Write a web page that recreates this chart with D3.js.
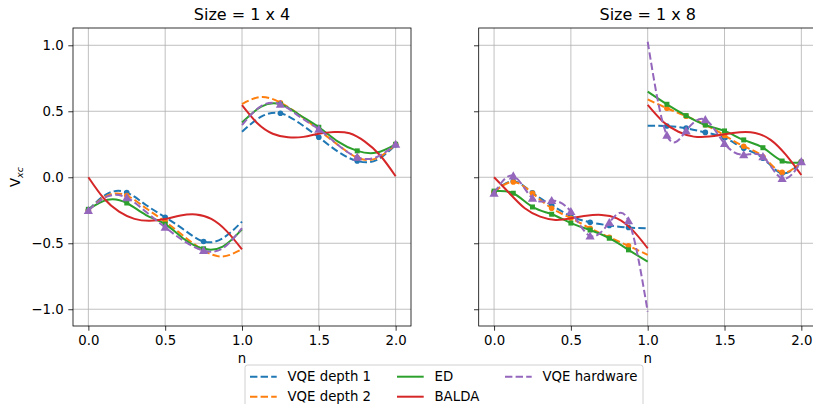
<!DOCTYPE html>
<html><head><meta charset="utf-8">
<script src="https://cdn.jsdelivr.net/npm/d3@7"></script>
<style>body{margin:0;background:#fff}svg{display:block;font-family:"DejaVu Sans",sans-serif}</style>
</head><body><svg id="c" width="813" height="404"></svg>
<script>
// ---------- data ----------
const titles = ["Size = 1 x 4", "Size = 1 x 8"];
const xTicks = [0, 0.5, 1, 1.5, 2];
const yTicks = [-1, -0.5, 0, 0.5, 1];
const seriesNames = ["VQE depth 1", "VQE depth 2", "ED", "BALDA", "VQE hardware"];

const nLeft = [0, 0.125, 0.25, 0.375, 0.5, 0.625, 0.75, 0.875, 1];
const nRight = [1, 1.125, 1.25, 1.375, 1.5, 1.625, 1.75, 1.875, 2];
const nBaldaLeft = [0, 0.1, 0.2, 0.3, 0.4, 0.5, 0.6, 0.7, 0.8, 0.9, 1];
const nBaldaRight = [1, 1.1, 1.2, 1.3, 1.4, 1.5, 1.6, 1.7, 1.8, 1.9, 2];
const markN4 = [0, 0.25, 0.5, 0.75, 1.25, 1.5, 1.75, 2];
const markN8 = [0, 0.125, 0.25, 0.375, 0.5, 0.625, 0.75, 0.875, 1.125, 1.25, 1.375, 1.5, 1.625, 1.75, 1.875, 2];

// Size = 1 x 4
const vqe1_4L = [-0.248, -0.124, -0.116, -0.21, -0.303, -0.40, -0.487, -0.462, -0.336];
const vqe1_4R = [0.345, 0.459, 0.485, 0.409, 0.303, 0.194, 0.123, 0.13, 0.245];
const vqe2_4L = [-0.25, -0.138, -0.139, -0.235, -0.336, -0.45, -0.555, -0.60, -0.545];
const vqe2_4R = [0.555, 0.608, 0.565, 0.472, 0.358, 0.245, 0.149, 0.143, 0.25];
const ed_4L = [-0.243, -0.17, -0.195, -0.286, -0.355, -0.47, -0.542, -0.525, -0.395];
const ed_4R = [0.415, 0.535, 0.553, 0.472, 0.379, 0.27, 0.2, 0.187, 0.25];
const balda_4L = [0.0, -0.159, -0.26, -0.315, -0.33, -0.316, -0.29, -0.282, -0.316, -0.408, -0.546];
const balda_4R = [0.546, 0.409, 0.33, 0.303, 0.306, 0.33, 0.343, 0.333, 0.27, 0.165, 0.008];
const hw_4L = [-0.252, -0.145, -0.155, -0.262, -0.38, -0.485, -0.556, -0.538, -0.385];
const hw_4R = [0.396, 0.54, 0.553, 0.459, 0.364, 0.245, 0.152, 0.152, 0.25];

// Size = 1 x 8
const vqe1_8L = [-0.112, -0.03, -0.118, -0.212, -0.295, -0.341, -0.365, -0.381, -0.386];
const vqe1_8R = [0.391, 0.388, 0.372, 0.34, 0.30, 0.22, 0.145, 0.03, 0.118];
const vqe2_8L = [-0.112, -0.036, -0.121, -0.235, -0.31, -0.386, -0.455, -0.52, -0.588];
const vqe2_8R = [0.59, 0.523, 0.463, 0.398, 0.317, 0.235, 0.156, 0.037, 0.118];
const ed_8L = [-0.105, -0.121, -0.225, -0.28, -0.347, -0.4, -0.462, -0.55, -0.64];
const ed_8R = [0.649, 0.553, 0.467, 0.396, 0.351, 0.283, 0.224, 0.123, 0.114];
const balda_8L = [0.0, -0.121, -0.235, -0.298, -0.323, -0.311, -0.291, -0.285, -0.311, -0.399, -0.538];
const balda_8R = [0.548, 0.421, 0.345, 0.308, 0.308, 0.326, 0.341, 0.336, 0.283, 0.169, 0.017];
const hw_8L = [-0.121, 0.01, -0.159, -0.177, -0.26, -0.445, -0.344, -0.33, -1.018];
const hw_8R = [1.027, 0.318, 0.352, 0.436, 0.255, 0.17, 0.156, -0.01, 0.118];

// ---------- styling ----------
const colors = ["#1f77b4", "#ff7f0e", "#2ca02c", "#d62728", "#9467bd"];
const dashed = [true, true, false, false, true];
const markerKind = ["circle", "circle", "square", null, "triangle"];
const lw = 2, dashPat = "7.4,3.2";

const zip = (ns, vs) => ns.map((n, i) => ({n, v: vs[i]}));
const panels = [
  {title: titles[0], x0: 73, x1: 411, marks: markN4, showY: true,
   series: [
     [zip(nLeft, vqe1_4L), zip(nRight, vqe1_4R)],
     [zip(nLeft, vqe2_4L), zip(nRight, vqe2_4R)],
     [zip(nLeft, ed_4L), zip(nRight, ed_4R)],
     [zip(nBaldaLeft, balda_4L), zip(nBaldaRight, balda_4R)],
     [zip(nLeft, hw_4L), zip(nRight, hw_4R)]
   ]},
  {title: titles[1], x0: 478.7, x1: 816.7, marks: markN8, showY: false,
   series: [
     [zip(nLeft, vqe1_8L), zip(nRight, vqe1_8R)],
     [zip(nLeft, vqe2_8L), zip(nRight, vqe2_8R)],
     [zip(nLeft, ed_8L), zip(nRight, ed_8R)],
     [zip(nBaldaLeft, balda_8L), zip(nBaldaRight, balda_8R)],
     [zip(nLeft, hw_8L), zip(nRight, hw_8R)]
   ]}
];

const svg = d3.select("#c");
const yTop = 28, yBot = 326;
const y = d3.scaleLinear().domain([-1.127, 1.131]).range([yBot, yTop]);
const fmt = d3.format(".1f");
const tickFont = 13.3;

function drawMarker(g, kind, cx, cy, color) {
  if (kind === "circle") {
    g.append("circle").attr("cx", cx).attr("cy", cy).attr("r", 2.8).attr("fill", color);
  } else if (kind === "square") {
    g.append("rect").attr("x", cx - 2.5).attr("y", cy - 2.5).attr("width", 5).attr("height", 5).attr("fill", color);
  } else if (kind === "triangle") {
    const s = 4.6;
    g.append("path").attr("d", `M${cx},${cy - s}L${cx + s},${cy + s * 0.75}L${cx - s},${cy + s * 0.75}Z`).attr("fill", color);
  }
}

panels.forEach((p, pi) => {
  const x = d3.scaleLinear().domain([-0.1, 2.1]).range([p.x0, p.x1]);
  const g = svg.append("g");
  const clipId = "clip" + pi;
  svg.append("clipPath").attr("id", clipId).append("rect")
    .attr("x", p.x0).attr("y", yTop).attr("width", p.x1 - p.x0).attr("height", yBot - yTop);

  // grid
  g.selectAll(".gx").data(xTicks).enter().append("line")
    .attr("x1", d => x(d)).attr("x2", d => x(d)).attr("y1", yTop).attr("y2", yBot)
    .attr("stroke", "#b0b0b0").attr("stroke-width", 0.8);
  g.selectAll(".gy").data(yTicks).enter().append("line")
    .attr("x1", p.x0).attr("x2", p.x1).attr("y1", d => y(d)).attr("y2", d => y(d))
    .attr("stroke", "#b0b0b0").attr("stroke-width", 0.8);

  // axes
  const xAxis = d3.axisBottom(x).tickValues(xTicks).tickFormat(fmt).tickSize(4.7).tickPadding(4.7);
  const ax = g.append("g").attr("transform", `translate(0,${yBot})`).call(xAxis);
  const yAxis = d3.axisLeft(y).tickValues(yTicks).tickFormat(p.showY ? fmt : () => "").tickSize(4.7).tickPadding(4.7);
  const ay = g.append("g").attr("transform", `translate(${p.x0},0)`).call(yAxis);
  [ax, ay].forEach(a => {
    a.select(".domain").remove();
    a.selectAll("line").attr("stroke", "#000").attr("stroke-width", 0.8);
    a.selectAll("text").attr("fill", "#000").style("font-size", tickFont + "px")
      .style("font-family", "DejaVu Sans");
  });

  // series
  const lineGen = d3.line().x(d => x(d.n)).y(d => y(d.v)).curve(d3.curveNatural);
  const sg = g.append("g").attr("clip-path", `url(#${clipId})`);
  p.series.forEach((branches, si) => {
    branches.forEach(br => {
      sg.append("path").attr("d", lineGen(br)).attr("fill", "none")
        .attr("stroke", colors[si]).attr("stroke-width", lw)
        .attr("stroke-dasharray", dashed[si] ? dashPat : null);
      if (markerKind[si]) {
        br.filter(d => p.marks.some(m => Math.abs(m - d.n) < 1e-6))
          .forEach(d => drawMarker(sg, markerKind[si], x(d.n), y(d.v), colors[si]));
      }
    });
  });

  // frame
  g.append("rect").attr("x", p.x0).attr("y", yTop).attr("width", p.x1 - p.x0).attr("height", yBot - yTop)
    .attr("fill", "none").attr("stroke", "#000").attr("stroke-width", 0.8);

  // title
  g.append("text").attr("x", (p.x0 + p.x1) / 2).attr("y", 20).attr("text-anchor", "middle")
    .style("font-size", "16px").attr("fill", "#000").text(p.title);
  // x label
  g.append("text").attr("x", (p.x0 + p.x1) / 2).attr("y", 363).attr("text-anchor", "middle")
    .style("font-size", tickFont + "px").attr("fill", "#000").text("n");
});

// y label
const yl = svg.append("text").attr("transform", `translate(20,${(yTop + yBot) / 2}) rotate(-90)`)
  .attr("text-anchor", "middle").style("font-size", tickFont + "px").attr("fill", "#000");
yl.append("tspan").text("V");
yl.append("tspan").attr("dy", 2.5).style("font-style", "italic").style("font-size", "9.5px").text("xc");

// legend
const lg = svg.append("g");
lg.append("rect").attr("x", 245).attr("y", 365).attr("width", 398).attr("height", 60).attr("rx", 2.5)
  .attr("fill", "#fff").attr("fill-opacity", 0.8).attr("stroke", "#d0d0d0").attr("stroke-width", 1);
const legCols = [250, 397, 505];
const legRows = [376.7, 396.7];
seriesNames.forEach((name, i) => {
  const col = Math.floor(i / 2), row = i % 2;
  const lx = legCols[col], ly = legRows[row];
  lg.append("line").attr("x1", lx).attr("x2", lx + 26.7).attr("y1", ly).attr("y2", ly)
    .attr("stroke", colors[i]).attr("stroke-width", lw)
    .attr("stroke-dasharray", dashed[i] ? dashPat : null);
  lg.append("text").attr("x", lx + 37.5).attr("y", ly).attr("dy", "0.36em")
    .style("font-size", tickFont + "px").attr("fill", "#000").text(name);
});
</script></body></html>
